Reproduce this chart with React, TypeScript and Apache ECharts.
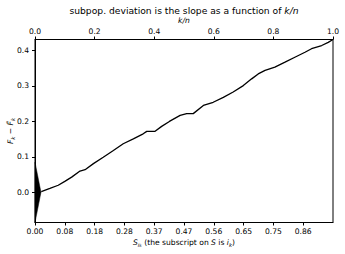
import React, { useEffect, useRef } from "react";
import * as echarts from "echarts";

// k/n positions of the cumulative curve
const knValues = [0.021, 0.05, 0.078, 0.1, 0.123, 0.151, 0.168, 0.196, 0.229, 0.263, 0.296, 0.33, 0.363, 0.375, 0.403, 0.425, 0.451, 0.487, 0.509, 0.531, 0.565, 0.598, 0.632, 0.665, 0.699, 0.727, 0.749, 0.772, 0.805, 0.839, 0.872, 0.906, 0.928, 0.962, 0.984, 1.0];
// F_k - F~_k values
const deviation = [0.002, 0.011, 0.02, 0.031, 0.043, 0.06, 0.064, 0.081, 0.099, 0.118, 0.137, 0.151, 0.165, 0.172, 0.172, 0.186, 0.2, 0.217, 0.222, 0.222, 0.245, 0.254, 0.268, 0.283, 0.301, 0.32, 0.334, 0.344, 0.353, 0.367, 0.381, 0.395, 0.405, 0.414, 0.423, 0.431];

// scale triangle
const triangleX = [0, 0.02, 0];
const triangleY = [0.085, 0, -0.085];

// tick labels
const topTicks = [0, 0.2, 0.4, 0.6, 0.8, 1.0];
const bottomTicks = [0, 0.1, 0.2, 0.3, 0.4, 0.5, 0.6, 0.7, 0.8, 0.9];
const bottomLabels = ["0.00", "0.08", "0.18", "0.28", "0.37", "0.47", "0.56", "0.65", "0.75", "0.86"];
const yTicks = [0, 0.1, 0.2, 0.3, 0.4];

const FONT = "DejaVu Sans";

export default function App() {
  const ref = useRef<HTMLDivElement>(null);
  useEffect(() => {
    if (!ref.current) return;
    const chart = echarts.init(ref.current, undefined, { renderer: "svg" });
    const lineData = knValues.map((x, i) => [x, deviation[i]]);
    const triData = triangleX.map((x, i) => [x, triangleY[i]]);
    const fs = 7.6;
    const rich = {
      n: { fontFamily: FONT, fontSize: fs, color: "#000", lineHeight: 10 },
      i: { fontFamily: FONT, fontSize: fs, fontStyle: "italic", color: "#000", lineHeight: 10 },
      s: { fontFamily: FONT, fontSize: 5.4, fontStyle: "italic", color: "#000", lineHeight: 6, verticalAlign: "bottom" },
      ss: { fontFamily: FONT, fontSize: 4.3, fontStyle: "italic", color: "#000", lineHeight: 4, verticalAlign: "bottom" },
    };
    chart.setOption({
      animation: false,
      title: {
        text: "subpop. deviation is the slope as a function of {i|k/n}",
        left: 184,
        textAlign: "center",
        top: 5,
        padding: 0,
        textStyle: {
          fontFamily: FONT,
          fontSize: 9.2,
          fontWeight: "normal",
          color: "#000",
          lineHeight: 10,
          rich: {
            i: { fontFamily: FONT, fontSize: 9.2, fontStyle: "italic", color: "#000", lineHeight: 10 },
          },
        },
      },
      grid: {
        left: 35,
        right: 12,
        top: 39.5,
        height: 183,
        show: true,
        borderColor: "#000",
        borderWidth: 1,
        backgroundColor: "transparent",
        containLabel: false,
        outerBoundsMode: "none",
      },
      xAxis: [
        {
          type: "value",
          position: "bottom",
          min: 0,
          max: 1,
          splitLine: { show: false },
          axisLine: { show: true, onZero: false, lineStyle: { color: "#000", width: 1 } },
          axisTick: { show: true, length: 3, customValues: bottomTicks, lineStyle: { color: "#000" } },
          axisLabel: {
            customValues: bottomTicks,
            margin: 5,
            fontFamily: FONT,
            fontSize: fs,
            color: "#000",
            formatter: (v: number) => {
              const idx = Math.round(v * 10);
              return bottomLabels[idx] ?? "";
            },
          },
          name: "{i|S}{s|i}{ss|k}{n| (the subscript on }{i|S}{n| is }{i|i}{s|k}{n|)}",
          nameLocation: "middle",
          nameGap: 15,
          nameMoveOverlap: false,
          nameTextStyle: { fontFamily: FONT, fontSize: fs, color: "#000", rich },
        },
        {
          type: "value",
          position: "top",
          min: 0,
          max: 1,
          splitLine: { show: false },
          axisLine: { show: true, onZero: false, lineStyle: { color: "#000", width: 1 } },
          axisTick: { show: true, length: 3, customValues: topTicks, lineStyle: { color: "#000" } },
          axisLabel: {
            customValues: topTicks,
            margin: 4,
            fontFamily: FONT,
            fontSize: fs,
            color: "#000",
            formatter: (v: number) => v.toFixed(1),
          },
          name: "k/n",
          nameLocation: "middle",
          nameGap: 15,
          nameMoveOverlap: false,
          nameTextStyle: { fontFamily: FONT, fontSize: fs, fontStyle: "italic", color: "#000" },
        },
      ],
      yAxis: {
        type: "value",
        min: -0.085,
        max: 0.431,
        splitLine: { show: false },
        axisLine: { show: true, onZero: false, lineStyle: { color: "#000", width: 1 } },
        axisTick: { show: true, length: 3, customValues: yTicks, lineStyle: { color: "#000" } },
        axisLabel: {
          customValues: yTicks,
          margin: 6,
          fontFamily: FONT,
          fontSize: fs,
          color: "#000",
          formatter: (v: number) => v.toFixed(1),
        },
        name: "{i|F}{s|k}{n| − }{i|F̃}{s|k}",
        nameLocation: "middle",
        nameRotate: 90,
        nameGap: 19.5,
        nameMoveOverlap: false,
        nameTextStyle: { fontFamily: FONT, fontSize: fs, color: "#000", rich },
      },
      series: [
        {
          type: "custom",
          xAxisIndex: 0,
          yAxisIndex: 0,
          data: triData,
          renderItem: (params: any, api: any) => {
            if (params.dataIndex !== 0) return null;
            const pts = triData.map((d) => api.coord(d));
            return {
              type: "polygon",
              shape: { points: pts },
              style: { fill: "#000", stroke: "#000", lineWidth: 0.5 },
            };
          },
          silent: true,
        },
        {
          type: "line",
          xAxisIndex: 0,
          yAxisIndex: 0,
          data: lineData,
          showSymbol: false,
          symbol: "none",
          lineStyle: { color: "#000", width: 1.3 },
          silent: true,
        },
      ],
    });
    return () => chart.dispose();
  }, []);
  return <div ref={ref} style={{ width: 345, height: 254, position: "absolute", left: 0, top: 0 }} />;
}
